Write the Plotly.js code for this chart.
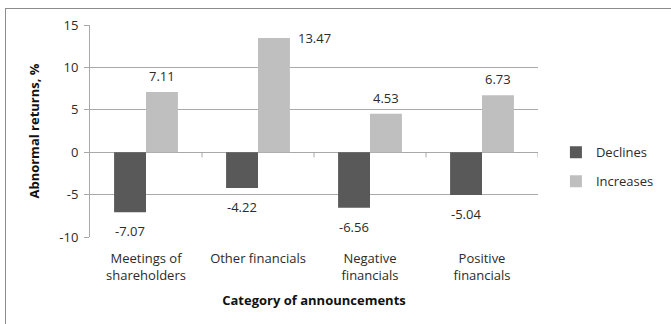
<!DOCTYPE html>
<html>
<head>
<meta charset="utf-8">
<script src="https://cdn.plot.ly/plotly-3.0.1.min.js"></script>
<style>
  html, body { margin: 0; padding: 0; width: 671px; height: 324px; overflow: hidden; background: #fff; }
  #frame { position: absolute; left: 5px; top: 8px; width: 720px; height: 400px; border: 1px solid #8c8c8c; }
  #chart { position: absolute; left: 0; top: 0; width: 671px; height: 324px; }
</style>
</head>
<body>
<div id="frame"></div>
<div id="chart"></div>
<script>
// Abnormal returns by category of announcement
const categories = ["Meetings of<br>shareholders", "Other financials", "Negative<br>financials", "Positive<br>financials"];
const declines = [-7.07, -4.22, -6.56, -5.04];
const increases = [7.11, 13.47, 4.53, 6.73];
const yTicks = [-10, -5, 0, 5, 10, 15];

const FONT = "'Open Sans', 'Liberation Sans', sans-serif";
const TEXT = "#2b2b2b";
const DARK = "#595959";
const LIGHT = "#bfbfbf";
const GRID = "#a9a9a9";
const yMin = -10, yMax = 15;

const traces = [
  { type: "bar", name: "Declines", x: categories, y: declines,
    marker: { color: DARK }, legendgroup: "d", hoverinfo: "none" },
  { type: "bar", name: "Increases", x: categories, y: increases,
    marker: { color: LIGHT }, legendgroup: "i", hoverinfo: "none" }
];

// Value labels: below negative bars, above positive bars;
// a label that would run past the top of the axis sits beside its bar instead.
const annotations = [];
const barOffset = 0.143; // half of a bar slot in category units
declines.forEach((v, i) => {
  annotations.push({ x: i - barOffset, y: v, xref: "x", yref: "y", text: v.toFixed(2),
    showarrow: false, yanchor: "top", yshift: -8,
    font: { family: FONT, size: 13, color: TEXT } });
});
increases.forEach((v, i) => {
  const tooHigh = v > yMax - 2;
  annotations.push({ x: i + barOffset, y: v, xref: "x", yref: "y", text: v.toFixed(2),
    showarrow: false,
    xanchor: tooHigh ? "left" : "center", xshift: tooHigh ? 22 : 0,
    yanchor: tooHigh ? "middle" : "bottom", yshift: tooHigh ? 0 : 5,
    font: { family: FONT, size: 13, color: TEXT } });
});

// Small tick marks on the zero line between categories
const shapes = [];
for (let k = 1; k <= categories.length; k++) {
  shapes.push({ type: "line", xref: "x", yref: "y", x0: k - 0.5, x1: k - 0.5,
    y0: 0, y1: -0.6, line: { color: GRID, width: 1 } });
}

const layout = {
  width: 671, height: 324,
  margin: { l: 90, r: 119, t: 25, b: 87, pad: 0 },
  paper_bgcolor: "rgba(0,0,0,0)", plot_bgcolor: "rgba(0,0,0,0)",
  font: { family: FONT, size: 13, color: TEXT },
  barmode: "group", bargap: 0.43, bargroupgap: 0,
  showlegend: true,
  legend: { x: 1.04, y: 0.47, xanchor: "left", yanchor: "top",
    font: { family: FONT, size: 13, color: TEXT },
    tracegroupgap: 9, itemwidth: 30, bgcolor: "rgba(0,0,0,0)" },
  xaxis: {
    type: "category", range: [-0.5, categories.length - 0.5],
    showgrid: false, zeroline: false, showline: false, ticks: "",
    ticklabelstandoff: 12,
    tickfont: { family: FONT, size: 13, color: TEXT },
    title: { text: "Category of announcements", standoff: 12,
      font: { family: FONT, size: 13, color: "#111", weight: "bold" } }
  },
  yaxis: {
    range: [yMin, yMax], tickvals: yTicks, ticktext: yTicks.map(String),
    showgrid: true, gridcolor: GRID, gridwidth: 1,
    zeroline: true, zerolinecolor: GRID, zerolinewidth: 1,
    showline: true, linecolor: GRID, linewidth: 1,
    ticks: "outside", ticklen: 5, tickcolor: GRID, ticklabelstandoff: 3,
    tickfont: { family: FONT, size: 13, color: TEXT },
    title: { text: "Abnormal returns, %", standoff: 16,
      font: { family: FONT, size: 13, color: "#111", weight: "bold" } }
  },
  annotations: annotations,
  shapes: shapes
};

Plotly.newPlot("chart", traces, layout, { staticPlot: true, displayModeBar: false });
</script>
</body>
</html>
